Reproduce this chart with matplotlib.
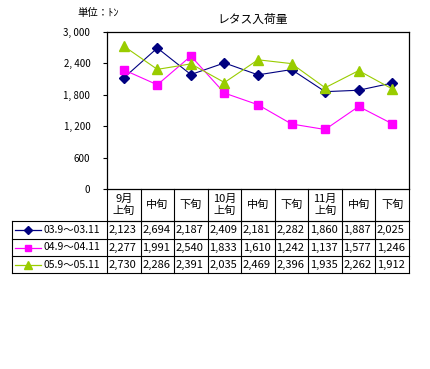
import matplotlib
matplotlib.use("Agg")
import matplotlib.pyplot as plt

plt.rcParams['font.family'] = ['Noto Sans CJK JP', 'DejaVu Sans']

title = "レタス入荷量"
unit_label = "単位：ﾄﾝ"
categories = ["9月\n上旬", "中旬", "下旬", "10月\n上旬", "中旬", "下旬", "11月\n上旬", "中旬", "下旬"]
series_names = ["03.9～03.11", "04.9～04.11", "05.9～05.11"]
s2003 = [2123, 2694, 2187, 2409, 2181, 2282, 1860, 1887, 2025]
s2004 = [2277, 1991, 2540, 1833, 1610, 1242, 1137, 1577, 1246]
s2005 = [2730, 2286, 2391, 2035, 2469, 2396, 1935, 2262, 1912]
series = [s2003, s2004, s2005]
colors = ["#000080", "#FF00FF", "#99CC00"]
markers = ["D", "s", "^"]
msizes = [5, 5.5, 6.5]
leg_msizes = [4, 4.5, 5.5]
yticks = [0, 600, 1200, 1800, 2400, 3000]

W, H = 430, 369
fig = plt.figure(figsize=(W / 100, H / 100), dpi=100)

# pixel geometry
px_l, px_r, px_t, px_b = 107, 409, 32, 189
ax = fig.add_axes([px_l / W, 1 - px_b / H, (px_r - px_l) / W, (px_b - px_t) / H])
n = len(categories)
x = list(range(n))
for vals, c, m, ms in zip(series, colors, markers, msizes):
    ax.plot(x, vals, color=c, marker=m, markersize=ms, linewidth=0.8,
            markeredgecolor=c, markerfacecolor=c)
ax.set_xlim(-0.5, n - 0.5)
ax.set_ylim(0, 3000)
ax.set_yticks(yticks)
ax.set_yticklabels([f"{v:,}".replace(",", ", ") for v in yticks], fontsize=7)
ax.tick_params(axis='y', direction='out', length=3, width=0.8, pad=9)
ax.set_xticks([])
for sp in ax.spines.values():
    sp.set_linewidth(0.9)

# overlay axes in pixel coordinates for table and texts
ov = fig.add_axes([0, 0, 1, 1], facecolor='none')
ov.set_xlim(0, W)
ov.set_ylim(H, 0)
ov.axis('off')

ov.text(253, 19, title, ha='center', va='center', fontsize=8.5)
ov.text(77, 13, unit_label, ha='left', va='center', fontsize=7.5)

col_w = (px_r - px_l) / n
row_top = px_b
hdr_bot = 221
row_edges = [221, 239, 256, 273]
leg_l = 12
lw = 0.8
# header row
ov.plot([px_l, px_r], [hdr_bot, hdr_bot], color='black', lw=lw)
for i in range(n + 1):
    xx = px_l + i * col_w
    ov.plot([xx, xx], [row_top, row_edges[-1]], color='black', lw=lw)
for i, cat in enumerate(categories):
    cx = px_l + (i + 0.5) * col_w
    ov.text(cx, (row_top + hdr_bot) / 2, cat, ha='center', va='center',
            fontsize=8, linespacing=1.1)
# data rows
for y in row_edges:
    ov.plot([leg_l, px_r], [y, y], color='black', lw=lw)
ov.plot([leg_l, leg_l], [row_edges[0], row_edges[-1]], color='black', lw=lw)
for r, (vals, c, m, ms, name) in enumerate(zip(series, colors, markers, leg_msizes, series_names)):
    cy = (row_edges[r] + row_edges[r + 1]) / 2
    ov.plot([15, 41], [cy, cy], color=c, lw=0.9)
    ov.plot([28], [cy], marker=m, color=c, markersize=ms)
    ov.text(44, cy, name, ha='left', va='center', fontsize=7.5)
    for i, v in enumerate(vals):
        ov.text(px_l + i * col_w + 1.5, cy, f"{v:,}", ha='left', va='center', fontsize=8)

fig.savefig("out.png", dpi=100)
